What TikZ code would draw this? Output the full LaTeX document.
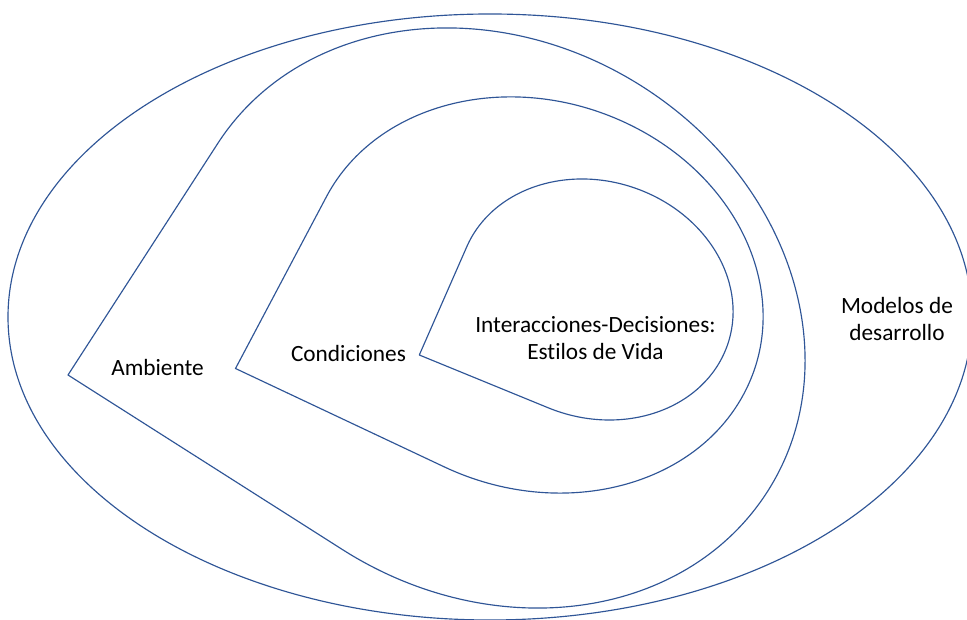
\documentclass[tikz,border=0pt]{standalone}
\usepackage{fontspec}
\setmainfont{Carlito}[Ligatures={NoCommon}]
\definecolor{lineblue}{RGB}{47,85,151}
\newcommand\kap{0.5523}
% teardrop: centre (cx,cy), axis vectors u and v (canvas pt); tip at c-u-v
\newcommand\tdrop[6]{%
\begin{scope}[shift={(#1pt,#2pt)}, x={(#3pt,#4pt)}, y={(#5pt,#6pt)}]
\draw[shapeline] (0,-1) -- (-1,-1) -- (-1,0)
  .. controls (-1,\kap) and (-\kap,1) .. (0,1)
  .. controls (\kap,1) and (1,\kap) .. (1,0)
  .. controls (1,-\kap) and (\kap,-1) .. (0,-1) -- cycle;
\end{scope}}
\begin{document}
\begin{tikzpicture}[x=1pt,y=1pt,
  shapeline/.style={draw=lineblue, line width=1.15pt, line join=round},
  lbl/.style={font=\fontsize{23.3}{27.5}\selectfont, inner sep=0pt, align=center, text=black}]
\clip (0,0) rectangle (967,620);
\fill[white] (0,0) rectangle (967,620);
% outer ellipse
\draw[shapeline] (490,303) ellipse [x radius=482, y radius=303];
% teardrops
\tdrop{492.3}{302}{274.5}{-174.6}{149.8}{231.6}
\tdrop{535.3}{325}{208.8}{-98.4}{91}{171.9}
\tdrop{595.7}{320.5}{128.9}{-52.8}{47.5}{108.3}
% labels (base anchor = baseline of the last line)
\node[lbl, anchor=base] (amb) at (157.5,244) {Ambiente};
\node[lbl, anchor=base] (cond) at (348.5,258) {Condiciones};
\node[lbl, anchor=base] (est) at (595.5,260) {Interacciones-Decisiones:\\Estilos de Vida};
\node[lbl, anchor=base] (mod) at (897,279) {Modelos de\\desarrollo};
\end{tikzpicture}
\end{document}
